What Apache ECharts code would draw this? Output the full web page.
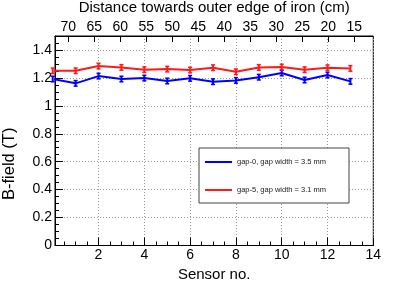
<!DOCTYPE html>
<html><head><meta charset="utf-8">
<script src="https://cdn.jsdelivr.net/npm/echarts@6/dist/echarts.min.js"></script>
<style>html,body{margin:0;padding:0;background:#fff}#c{width:415px;height:281px}</style>
</head><body><div id="c"></div>
<script>
const sensors = [0,1,2,3,4,5,6,7,8,9,10,11,12,13];
const gap0 = [1.192,1.161,1.213,1.192,1.199,1.178,1.197,1.173,1.182,1.205,1.235,1.185,1.221,1.175];
const gap0Err = [0.02,0.02,0.02,0.02,0.02,0.02,0.02,0.02,0.02,0.02,0.02,0.02,0.02,0.02];
const gap5 = [1.251,1.251,1.285,1.275,1.259,1.263,1.256,1.273,1.244,1.275,1.278,1.259,1.273,1.268];
const gap5Err = [0.02,0.02,0.02,0.02,0.02,0.02,0.02,0.02,0.02,0.02,0.02,0.02,0.02,0.02];
const distanceTicks = [70,65,60,55,50,45,40,35,30,25,20,15];
const sensorTicks = [2,4,6,8,10,12,14];
const names = ['gap-0, gap width = 3.5 mm', 'gap-5, gap width = 3.1 mm'];
const BLUE = '#0000ff', RED = '#ff1a1a';
const FONT = 'Liberation Sans';

function lineSeries(name, vals, color) {
  return {
    type: 'line', name: name, xAxisIndex: 0, yAxisIndex: 0,
    data: sensors.map((s, i) => [s, vals[i]]),
    symbol: 'none', lineStyle: {color: color, width: 2}, itemStyle: {color: color},
    clip: true, z: 3, silent: true, animation: false
  };
}
function errSeries(name, vals, errs, color) {
  return {
    type: 'custom', name: name + ' err', xAxisIndex: 0, yAxisIndex: 0,
    data: sensors.map((s, i) => [s, vals[i] - errs[i], vals[i] + errs[i]]),
    encode: {x: 0, y: [1, 2]},
    renderItem: function (params, api) {
      const x = api.value(0);
      const lo = api.coord([x, api.value(1)]);
      const hi = api.coord([x, api.value(2)]);
      const w = 2;
      return {type: 'group', children: [
        {type: 'line', shape: {x1: lo[0], y1: lo[1], x2: hi[0], y2: hi[1]}, style: {stroke: color, lineWidth: 2}},
        {type: 'line', shape: {x1: lo[0] - w, y1: lo[1], x2: lo[0] + w, y2: lo[1]}, style: {stroke: color, lineWidth: 1.5}},
        {type: 'line', shape: {x1: hi[0] - w, y1: hi[1], x2: hi[0] + w, y2: hi[1]}, style: {stroke: color, lineWidth: 1.5}}
      ]};
    },
    clip: false, z: 4, silent: true, animation: false
  };
}

const chart = echarts.init(document.getElementById('c'), null, {renderer: 'canvas'});
chart.setOption({
  animation: false,
  backgroundColor: '#fff',
  textStyle: {fontFamily: FONT},
  grid: {left: 55, right: 41.7, top: 36, bottom: 35.5, outerBoundsMode: 'none', containLabel: false,
         show: true, borderColor: '#000', borderWidth: 1, backgroundColor: 'transparent'},
  legend: {
    data: names, orient: 'vertical', left: 199, top: 148,
    icon: 'rect',
    padding: [9, 23, 8, 6], itemWidth: 27, itemHeight: 2, itemGap: 18, itemTextGap: 8,
    backgroundColor: '#fff', borderColor: '#444', borderWidth: 1, borderRadius: 0,
    textStyle: {fontFamily: FONT, fontSize: 7.5, color: '#222', lineHeight: 10, height: 10},
    selectedMode: false
  },
  xAxis: [{
    type: 'value', min: 0.1, max: 14, minInterval: 2, maxInterval: 2, position: 'bottom',
    name: 'Sensor no.', nameLocation: 'middle', nameGap: 17,
    nameTextStyle: {fontFamily: FONT, fontSize: 15, color: '#000'},
    axisLine: {show: true, onZero: false, lineStyle: {color: '#000', width: 1}},
    axisTick: {show: true, inside: true, length: 8, lineStyle: {color: '#000'}},
    minorTick: {show: true, splitNumber: 4, length: 4, lineStyle: {color: '#000'}},
    axisLabel: {customValues: sensorTicks, margin: 3, fontFamily: FONT, fontSize: 14, color: '#000'},
    splitLine: {show: true, lineStyle: {color: '#999', type: [1, 2], width: 1}}
  }, {
    type: 'value', min: 11.35, max: 72.56, inverse: true, position: 'top',
    name: 'Distance towards outer edge of iron (cm)', nameLocation: 'middle', nameGap: 15,
    nameTextStyle: {fontFamily: FONT, fontSize: 15, color: '#000'},
    axisLine: {show: true, onZero: false, lineStyle: {color: '#000', width: 1}},
    axisTick: {show: true, inside: true, length: 6, customValues: distanceTicks, lineStyle: {color: '#000'}},
    minorTick: {show: false},
    axisLabel: {customValues: distanceTicks, margin: 2, fontFamily: FONT, fontSize: 14, color: '#000'},
    splitLine: {show: false}
  }],
  yAxis: [{
    type: 'value', min: 0, max: 1.5, interval: 0.2,
    axisLine: {show: true, onZero: false, lineStyle: {color: '#000', width: 1}},
    axisTick: {show: true, inside: true, length: 8, lineStyle: {color: '#000'}},
    minorTick: {show: true, splitNumber: 4, length: 4, lineStyle: {color: '#000'}},
    axisLabel: {showMaxLabel: false, margin: 3, fontFamily: FONT, fontSize: 14, color: '#000'},
    splitLine: {show: true, lineStyle: {color: '#999', type: [1, 2], width: 1}}
  }],
  graphic: [{
    type: 'text', x: 1, y: 200, rotation: Math.PI / 2,
    style: {text: 'B-field (T)', fontFamily: FONT, fontSize: 16.5, fill: '#000', verticalAlign: 'top'}
  }],
  series: [
    lineSeries(names[0], gap0, BLUE),
    lineSeries(names[1], gap5, RED),
    errSeries(names[0], gap0, gap0Err, BLUE),
    errSeries(names[1], gap5, gap5Err, RED)
  ]
});
</script></body></html>
